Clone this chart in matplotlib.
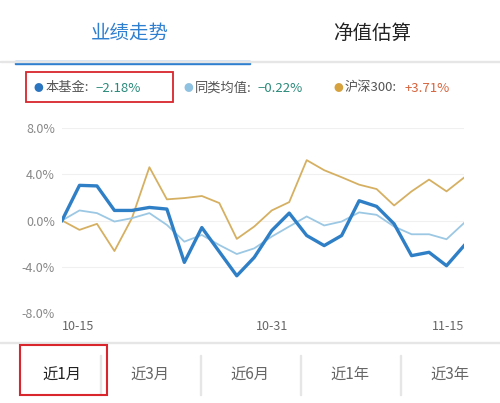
import matplotlib.pyplot as plt
from matplotlib.patches import Rectangle

plt.rcParams['font.family'] = ['Noto Sans CJK SC', 'DejaVu Sans']

# 收益率 (%), 24个交易日
fund = [0, 3.04, 2.99, 0.87, 0.87, 1.13, 0.99, -3.62, -0.61, -2.70, -4.78, -3.19,
        -0.87, 0.64, -1.30, -2.17, -1.30, 1.71, 1.22, -0.29, -3.04, -2.75, -3.91, -2.18]
peer = [0, 0.87, 0.64, -0.09, 0.2, 0.64, -0.38, -1.83, -1.25, -2.12, -2.9, -2.41,
        -1.39, -0.52, 0.35, -0.43, -0.09, 0.7, 0.49, -0.52, -1.19, -1.19, -1.62, -0.22]
hs300 = [0, -0.81, -0.29, -2.64, 0.2, 4.61, 1.83, 1.94, 2.12, 1.51, -1.59, -0.52,
         0.87, 1.59, 5.22, 4.35, 3.74, 3.1, 2.72, 1.30, 2.52, 3.54, 2.52, 3.71]
xticks = {0: '10-15', 12: '10-31', 23: '11-15'}
yticks = [8, 4, 0, -4, -8]
tabs = ['近1月', '近3月', '近6月', '近1年', '近3年']

W, H = 500, 403
fig = plt.figure(figsize=(W / 100, H / 100), dpi=100)

def fx(px): return px / W
def fy(py): return 1 - py / H

# 顶部标签
fig.text(fx(130), fy(33), '业绩走势', color='#2f7fd0', fontsize=14, ha='center', va='center')
fig.text(fx(372), fy(33), '净值估算', color='#222222', fontsize=14, ha='center', va='center')
fig.add_artist(Rectangle((fx(15), fy(64)), fx(235), 3 / H, color='#2f7fd0', transform=fig.transFigure))
fig.add_artist(Rectangle((0, fy(62)), 1, 1 / H, color='#e6e6e6', transform=fig.transFigure))

# 图例
ly = fy(88)
fig.text(fx(33), ly, '●', color='#2b74c0', fontsize=7, va='center')
fig.text(fx(45), ly, '本基金:', color='#555555', fontsize=9.5, va='center')
fig.text(fx(96), ly, '−2.18%', color='#2a8a7a', fontsize=9.5, va='center')
fig.add_artist(Rectangle((fx(26), fy(102)), fx(147), 30 / H, fill=False, ec='#d8262c', lw=1.3,
                         transform=fig.transFigure))
fig.text(fx(183), ly, '●', color='#8fc1e0', fontsize=7, va='center')
fig.text(fx(195), ly, '同类均值:', color='#555555', fontsize=9.5, va='center')
fig.text(fx(258), ly, '−0.22%', color='#2a8a7a', fontsize=9.5, va='center')
fig.text(fx(333), ly, '●', color='#d6a23f', fontsize=7, va='center')
fig.text(fx(345), ly, '沪深300:', color='#555555', fontsize=9.5, va='center')
fig.text(fx(405), ly, '+3.71%', color='#d6643c', fontsize=9.5, va='center')

# 主图
ax = fig.add_axes([fx(62), fy(313), fx(464 - 62), (313 - 128) / H])
x = list(range(len(fund)))
ax.plot(x, hs300, color='#d6b062', lw=1.3)
ax.plot(x, peer, color='#9cc8e4', lw=1.3)
ax.plot(x, fund, color='#2f7fc6', lw=2.4)
ax.set_xlim(0, len(fund) - 1)
ax.set_ylim(-8, 8)
ax.set_yticks(yticks)
ax.set_yticklabels([f'{v:.1f}%' for v in yticks], color='#888888', fontsize=9)
ax.set_xticks(list(xticks.keys()))
labels = ax.set_xticklabels(list(xticks.values()), color='#666666', fontsize=9)
labels[0].set_ha('left')
labels[-1].set_ha('right')
ax.tick_params(length=0, pad=5)
ax.grid(axis='y', color='#f0f0f0', lw=0.8)
for s in ax.spines.values():
    s.set_visible(False)

# 底部标签
fig.add_artist(Rectangle((0, fy(343)), 1, 1 / H, color='#e6e6e6', transform=fig.transFigure))
for i, t in enumerate(tabs):
    cx = 62 if i == 0 else 50 + i * 100
    fig.text(fx(cx), fy(375), t, color='#222222' if i == 0 else '#666666',
             fontsize=11, ha='center', va='center')
    if i > 0:
        fig.add_artist(Rectangle((fx(i * 100), fy(395)), 1 / W, 40 / H, color='#e6e6e6',
                                 transform=fig.transFigure))
fig.add_artist(Rectangle((fx(20), fy(395)), fx(87), 50 / H, fill=False, ec='#d8262c', lw=1.5,
                         transform=fig.transFigure))

fig.savefig('out.png', dpi=100)
